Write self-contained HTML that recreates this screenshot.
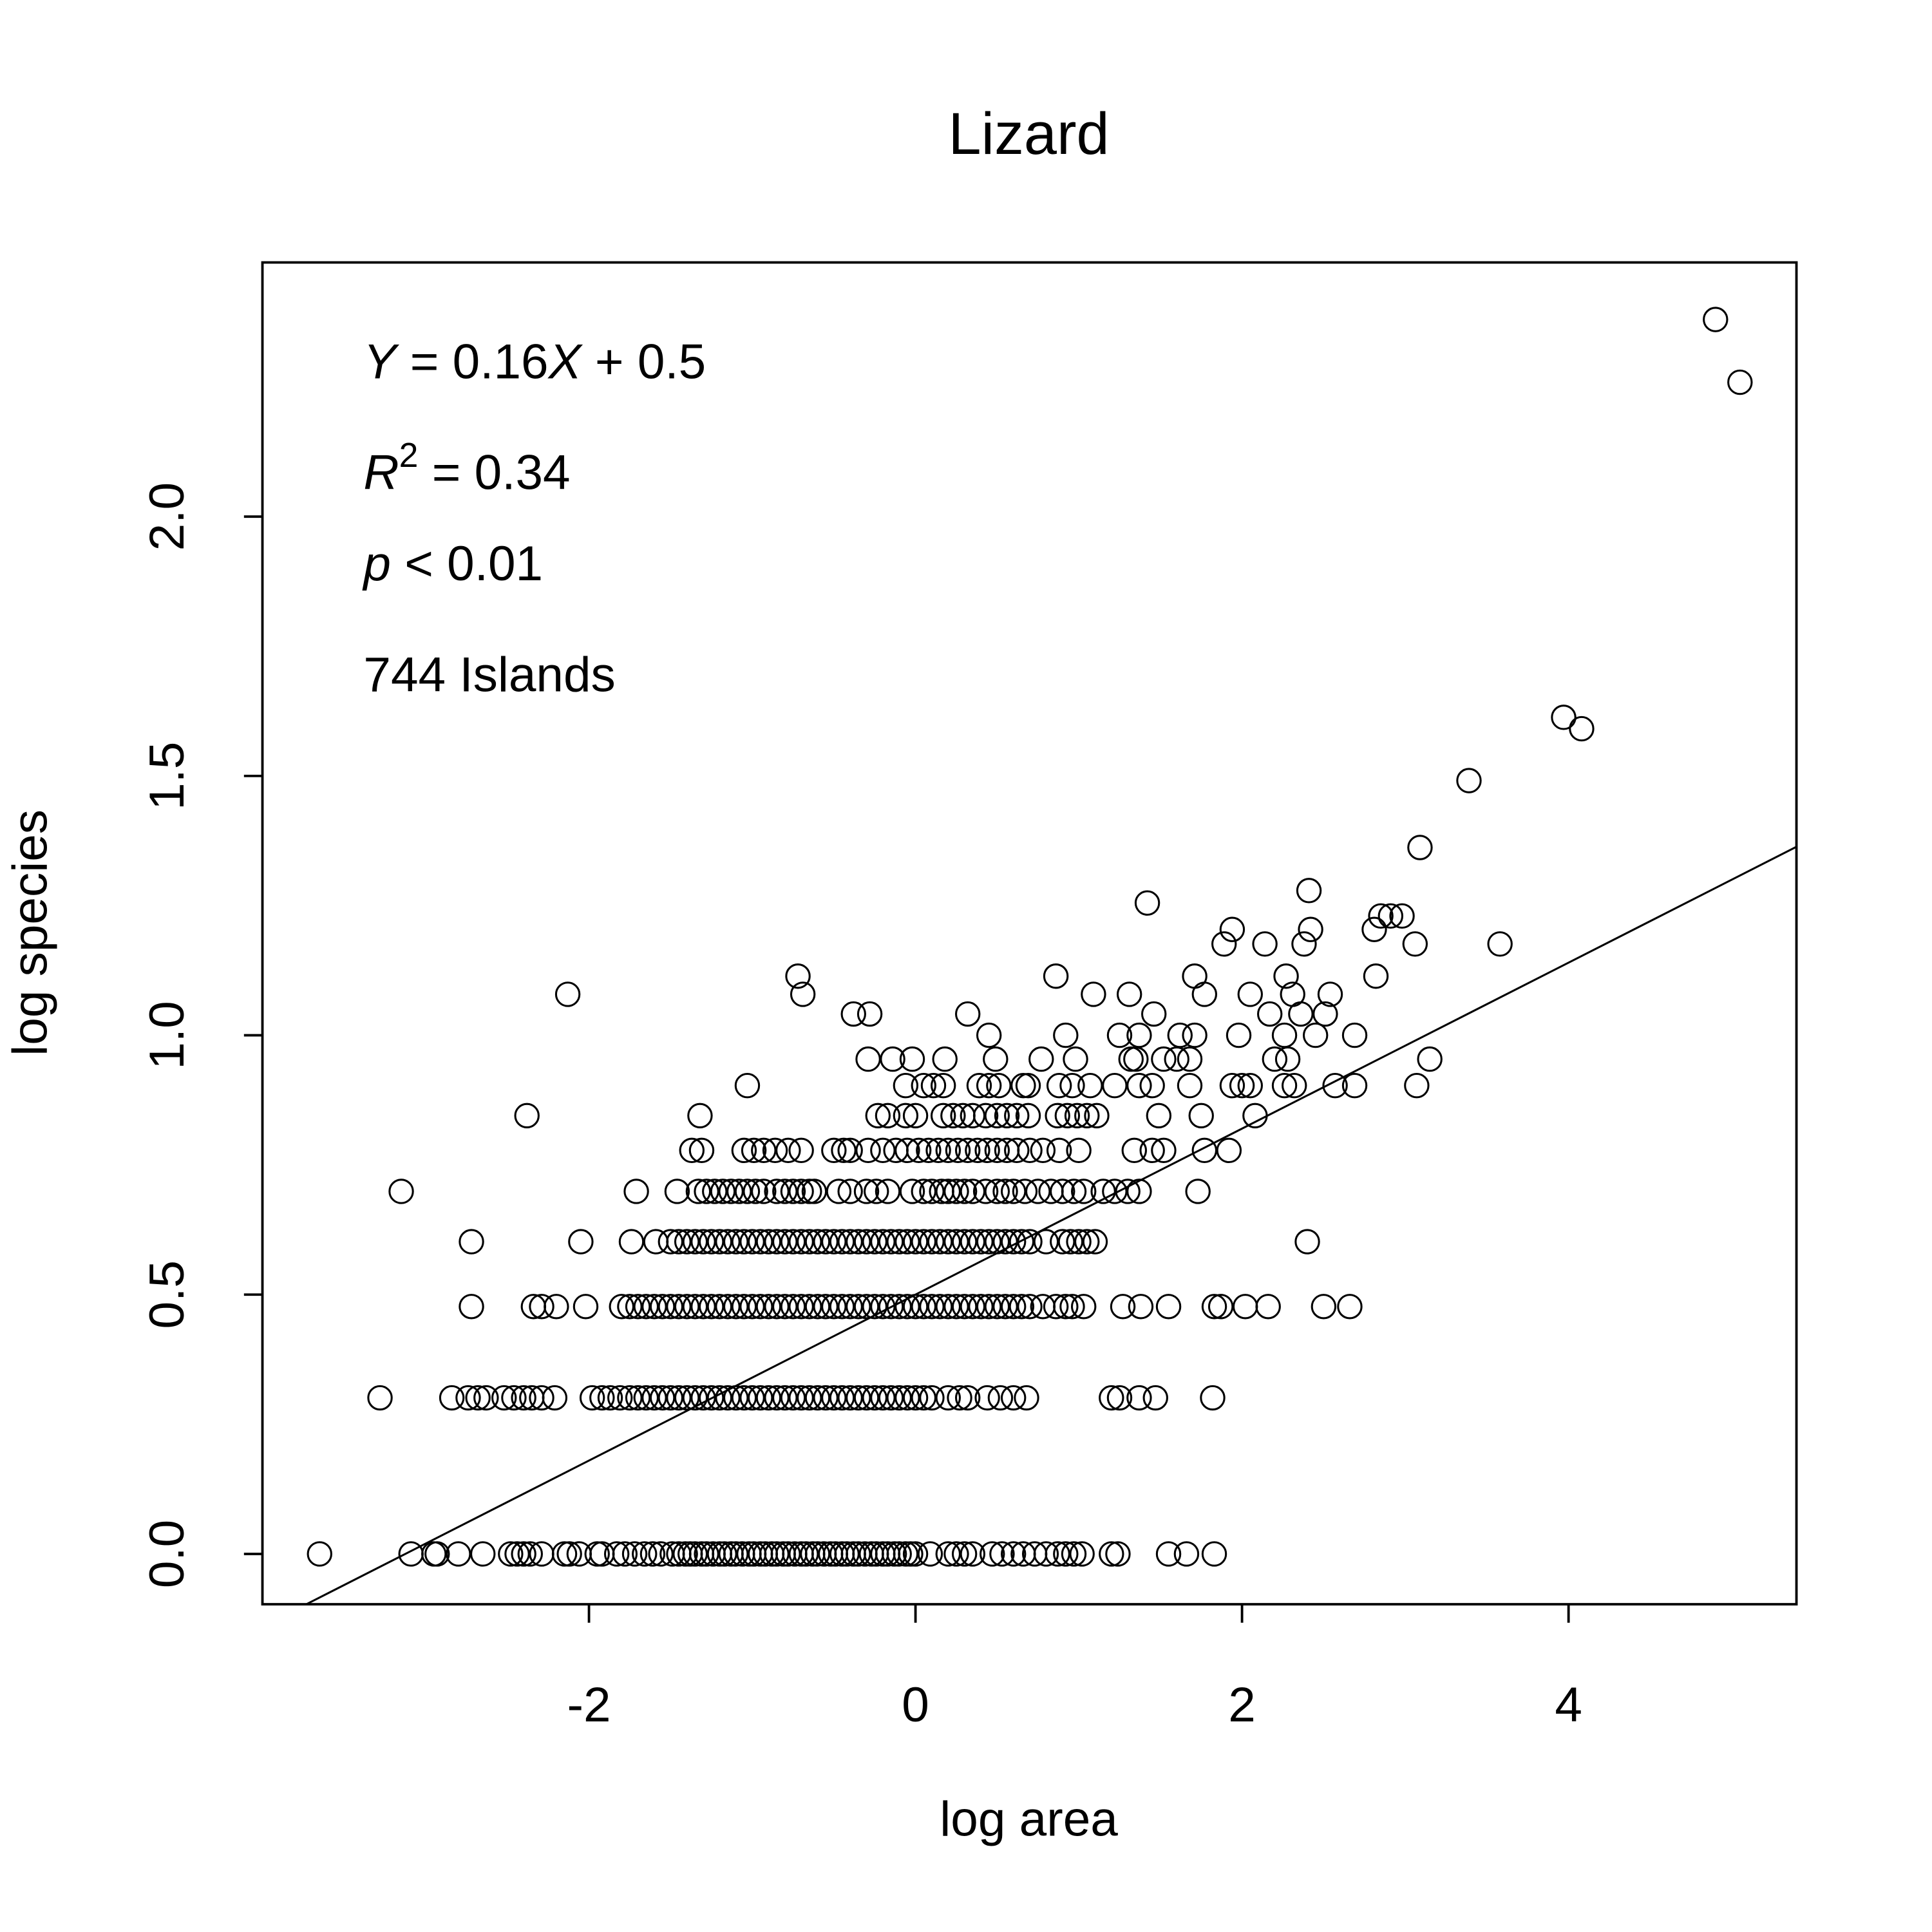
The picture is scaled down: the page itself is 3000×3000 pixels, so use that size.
<!DOCTYPE html>
<html><head><meta charset="utf-8"><title>Lizard</title>
<style>html,body{margin:0;padding:0;background:#fff;}svg{display:block;}</style></head>
<body>
<svg id="chart" xmlns="http://www.w3.org/2000/svg" width="3000" height="3000" viewBox="0 0 1568 1568" font-family="'Liberation Sans', Arial, sans-serif">
<rect x="0" y="0" width="1568" height="1568" fill="#fff"/>
<text x="835" y="125" font-size="48" text-anchor="middle">Lizard</text>
<rect x="213" y="213" width="1245" height="1089" fill="none" stroke="#000" stroke-width="2"/>
<g id="xticks"></g>
<g id="yticks"></g>
<g id="points" fill="none" stroke="#000" stroke-width="1.6"></g>
<line id="fit" stroke="#000" stroke-width="1.6"/>
<text x="835" y="1490" font-size="40" text-anchor="middle">log area</text>
<text transform="translate(38,757) rotate(-90)" font-size="40" text-anchor="middle">log species</text>
<g font-size="40">
<text x="295" y="307"><tspan font-style="italic">Y</tspan> = 0.16<tspan font-style="italic">X</tspan> + 0.5</text>
<text x="295" y="397"><tspan font-style="italic">R</tspan><tspan font-size="28" dy="-18">2</tspan><tspan dy="18"> = 0.34</tspan></text>
<text x="295" y="471"><tspan font-style="italic">p</tspan> &lt; 0.01</text>
<text x="295" y="561">744 Islands</text>
</g>
</svg>
<script>
const xTicks = [-2, 0, 2, 4];
const xTickLabels = ["-2", "0", "2", "4"];
const yTicks = [0, 0.5, 1, 1.5, 2];
const yTickLabels = ["0.0", "0.5", "1.0", "1.5", "2.0"];
const fitSlope = 0.16;
const fitIntercept = 0.5;
const levels = [0, 0.301, 0.477, 0.602, 0.699, 0.778, 0.845, 0.903, 0.954, 1.0, 1.041, 1.079, 1.114, 1.176, 1.204, 1.23, 1.255, 1.279, 1.362, 1.491, 1.591, 1.613, 2.259, 2.38];
const levelX = [
 [-3.65,-3.09,-2.95,-2.93,-2.80,-2.65,-2.48,-2.44,-2.40,-2.36,-2.29,-2.15,-2.12,-2.06,-1.95,-1.92,-1.83,-1.78,-1.72,-1.66,-1.61,-1.56,-1.49,-1.45,-1.41,-1.38,-1.35,-1.31,-1.28,-1.24,-1.2,-1.17,-1.13,-1.1,-1.06,-1.02,-0.99,-0.95,-0.92,-0.88,-0.85,-0.81,-0.78,-0.74,-0.7,-0.67,-0.63,-0.6,-0.56,-0.52,-0.49,-0.45,-0.42,-0.38,-0.35,-0.31,-0.27,-0.24,-0.2,-0.17,-0.13,-0.1,-0.06,-0.03,0.0,0.09,0.2,0.25,0.3,0.35,0.47,0.53,0.6,0.66,0.73,0.8,0.87,0.92,0.97,1.02,1.2,1.24,1.55,1.66,1.83],
 [-3.28,-2.84,-2.74,-2.68,-2.63,-2.52,-2.46,-2.40,-2.35,-2.29,-2.21,-1.98,-1.92,-1.87,-1.81,-1.75,-1.7,-1.65,-1.6,-1.55,-1.5,-1.45,-1.4,-1.35,-1.3,-1.25,-1.2,-1.15,-1.1,-1.05,-1.0,-0.95,-0.9,-0.85,-0.8,-0.75,-0.7,-0.65,-0.6,-0.55,-0.5,-0.45,-0.4,-0.35,-0.3,-0.25,-0.2,-0.15,-0.1,-0.05,0.0,0.05,0.1,0.2,0.27,0.32,0.44,0.52,0.6,0.68,1.2,1.25,1.37,1.47,1.82],
 [-2.72,-2.34,-2.29,-2.2,-2.02,-1.8,-1.75,-1.7,-1.65,-1.6,-1.55,-1.5,-1.45,-1.4,-1.35,-1.3,-1.25,-1.2,-1.15,-1.1,-1.05,-1.0,-0.95,-0.9,-0.85,-0.8,-0.75,-0.7,-0.65,-0.6,-0.55,-0.5,-0.45,-0.4,-0.35,-0.3,-0.25,-0.2,-0.15,-0.1,-0.05,0.0,0.05,0.1,0.15,0.2,0.25,0.3,0.35,0.4,0.45,0.5,0.55,0.6,0.65,0.7,0.78,0.86,0.92,0.96,1.03,1.27,1.38,1.55,1.83,1.87,2.02,2.16,2.5,2.66],
 [-2.72,-2.05,-1.74,-1.59,-1.5,-1.45,-1.4,-1.35,-1.3,-1.25,-1.2,-1.15,-1.1,-1.05,-1.0,-0.95,-0.9,-0.85,-0.8,-0.75,-0.7,-0.65,-0.6,-0.55,-0.5,-0.45,-0.4,-0.35,-0.3,-0.25,-0.2,-0.15,-0.1,-0.05,0.0,0.05,0.1,0.15,0.2,0.25,0.3,0.35,0.4,0.45,0.5,0.55,0.6,0.65,0.7,0.8,0.9,0.95,1.0,1.05,1.1,2.4],
 [-3.15,-1.71,-1.46,-1.33,-1.28,-1.23,-1.18,-1.13,-1.08,-1.03,-0.98,-0.93,-0.85,-0.8,-0.75,-0.7,-0.65,-0.62,-0.47,-0.4,-0.3,-0.24,-0.17,-0.02,0.05,0.1,0.16,0.2,0.25,0.3,0.35,0.43,0.5,0.55,0.6,0.67,0.75,0.83,0.9,0.97,1.03,1.15,1.22,1.3,1.37,1.73],
 [-1.37,-1.31,-1.05,-0.99,-0.93,-0.86,-0.78,-0.7,-0.5,-0.44,-0.4,-0.29,-0.2,-0.12,-0.05,0.02,0.08,0.14,0.2,0.26,0.32,0.38,0.44,0.5,0.56,0.62,0.7,0.78,0.88,1.0,1.34,1.45,1.52,1.77,1.92],
 [-2.38,-1.32,-0.23,-0.17,-0.06,0.0,0.17,0.23,0.29,0.35,0.43,0.5,0.56,0.62,0.69,0.87,0.93,0.99,1.05,1.11,1.49,1.75,2.08],
 [-1.03,-0.06,0.05,0.11,0.17,0.39,0.45,0.51,0.66,0.69,0.88,0.96,1.07,1.22,1.37,1.45,1.68,1.94,2.0,2.05,2.26,2.32,2.57,2.69,3.07],
 [-0.29,-0.14,-0.02,0.18,0.49,0.77,0.98,1.32,1.35,1.52,1.6,1.68,2.2,2.28,3.15],
 [0.45,0.92,1.25,1.37,1.62,1.71,1.98,2.26,2.45,2.69],
 [-0.38,-0.28,0.32,1.46,2.17,2.36,2.51],
 [-2.13,-0.69,1.09,1.31,1.77,2.05,2.31,2.54],
 [-0.72,0.86,1.71,2.27,2.82],
 [1.89,2.14,2.38,3.06,3.58],
 [1.94,2.42,2.81],
 [2.85,2.91,2.98],
 [1.42],
 [2.41],
 [3.09],
 [3.39],
 [4.08],
 [3.97],
 [5.05],
 [4.9]
];
const NS = "http://www.w3.org/2000/svg";
const xMin = -4.0, xMax = 5.396, yMin = -0.097, yMax = 2.490;
const L = 213, R = 1458, T = 213, B = 1302;
function sx(v){ return L + (v - xMin) / (xMax - xMin) * (R - L); }
function sy(v){ return B - (v - yMin) / (yMax - yMin) * (B - T); }
const xg = document.getElementById('xticks');
xTicks.forEach((t, i) => {
  const ln = document.createElementNS(NS, 'line');
  
  
  ln.setAttribute('x1', sx(t)); ln.setAttribute('x2', sx(t));
  ln.setAttribute('y1', B); ln.setAttribute('y2', B + 15);
  ln.setAttribute('stroke', '#000'); ln.setAttribute('stroke-width', '2');
  xg.appendChild(ln);
  const tx = document.createElementNS(NS, 'text');
  
  
  tx.setAttribute('x', sx(t)); tx.setAttribute('y', 1397);
  tx.setAttribute('font-size', '40'); tx.setAttribute('text-anchor', 'middle');
  tx.textContent = xTickLabels[i];
  xg.appendChild(tx);
});
const yg = document.getElementById('yticks');
yTicks.forEach((t, i) => {
  const ln = document.createElementNS(NS, 'line');
  
  
  ln.setAttribute('x1', L - 15); ln.setAttribute('x2', L);
  ln.setAttribute('y1', sy(t)); ln.setAttribute('y2', sy(t));
  ln.setAttribute('stroke', '#000'); ln.setAttribute('stroke-width', '2');
  yg.appendChild(ln);
  const tx = document.createElementNS(NS, 'text');
  
  
  tx.setAttribute('transform', 'translate(149,' + sy(t) + ') rotate(-90)');
  tx.setAttribute('font-size', '40'); tx.setAttribute('text-anchor', 'middle');
  tx.textContent = yTickLabels[i];
  yg.appendChild(tx);
});
const pg = document.getElementById('points');
levels.forEach((lv, i) => {
  levelX[i].forEach(xv => {
    const c = document.createElementNS(NS, 'circle');
    
    
    c.setAttribute('cx', sx(xv)); c.setAttribute('cy', sy(lv)); c.setAttribute('r', '9.5');
    pg.appendChild(c);
  });
});
const fit = document.getElementById('fit');
const xa = (yMin - fitIntercept) / fitSlope;
fit.setAttribute('x1', sx(xa)); fit.setAttribute('y1', sy(yMin));
fit.setAttribute('x2', sx(xMax)); fit.setAttribute('y2', sy(fitSlope * xMax + fitIntercept));
</script>
</body></html>
